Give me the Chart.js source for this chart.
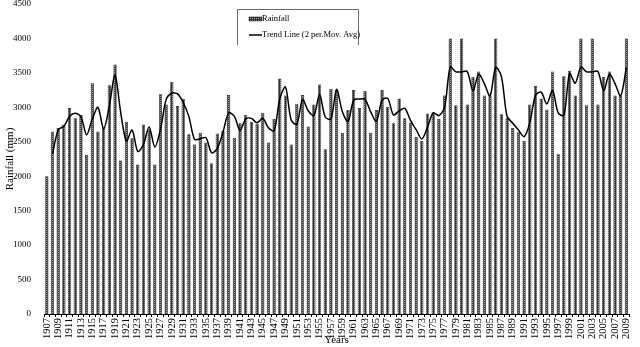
<!DOCTYPE html>
<html>
<head>
<meta charset="utf-8">
<script src="https://cdn.jsdelivr.net/npm/chart.js@4.4.1/dist/chart.umd.min.js"></script>
<style>
  html, body { margin: 0; padding: 0; background: #fff; }
  #wrap { width: 640px; height: 347px; }
</style>
</head>
<body>
<div id="wrap"><canvas id="c" width="640" height="347"></canvas></div>
<script>
// ---- Data ----
const years = [
  "1907","1908","1909","1910","1911","1912","1913","1914","1915","1916",
  "1917","1918","1919","1920","1921","1922","1923","1924","1925","1926",
  "1927","1928","1929","1930","1931","1932","1933","1934","1935","1936",
  "1937","1938","1939","1940","1941","1942","1943","1944","1945","1946",
  "1947","1948","1949","1950","1951","1952","1953","1954","1955","1956",
  "1957","1958","1959","1960","1961","1962","1963","1964","1965","1966",
  "1967","1968","1969","1970","1971","1972","1973","1974","1975","1976",
  "1977","1978","1979","1980","1981","1982","1983","1984","1985","1986",
  "1987","1988","1989","1990","1991","1992","1993","1994","1995","1996",
  "1997","1998","1999","2000","2001","2002","2003","2004","2005","2006",
  "2007","2008","2009"
];
const rainfall = [
  2000,2650,2700,2750,2990,2840,2890,2310,3350,2650,
  2720,3320,3620,2230,2790,2550,2170,2750,2680,2170,
  3190,3040,3370,3020,3120,2610,2460,2630,2490,2190,
  2620,2660,3180,2560,2770,2890,2790,2760,2920,2490,
  2830,3420,3170,2460,3050,3180,2720,3040,3330,2390,
  3270,3250,2630,2960,3250,2990,3240,2630,2960,3250,
  3010,2770,3130,2840,2780,2570,2510,2910,2930,2830,
  3170,4000,3030,4000,3040,3440,3520,3170,3160,4000,
  2900,2840,2700,2640,2510,3040,3310,3130,2970,3520,
  2320,3450,3530,3170,4000,3030,4000,3040,3440,3520,
  3170,3160,4000
];
const yTicks = [0,500,1000,1500,2000,2500,3000,3500,4000,4500];
const seriesNames = ["Rainfall", "Trend Line (2 per.Mov. Avg)"];
const axisTitles = { x: "Years", y: "Rainfall (mm)" };

// 2-period moving average of the rainfall series (what the trend line shows)
const trend = rainfall.map((v, i) => i === 0 ? null : (rainfall[i - 1] + v) / 2);

// ---- Styling ----
const FONT = "'Liberation Serif', 'Times New Roman', serif";

function makePattern() {
  const p = document.createElement('canvas');
  p.width = 2; p.height = 2;
  const g = p.getContext('2d');
  g.fillStyle = '#363636'; g.fillRect(0, 0, 2, 2);
  g.fillStyle = '#969696'; g.fillRect(0, 0, 1, 1);
  return document.getElementById('c').getContext('2d').createPattern(p, 'repeat');
}
const barFill = makePattern();

const legendPlugin = {
  id: 'boxLegend',
  afterDraw(chart) {
    const ctx = chart.ctx;
    ctx.save();
    ctx.strokeStyle = '#6a6a6a';
    ctx.lineWidth = 1;
    ctx.beginPath();
    ctx.moveTo(237.5, 45); ctx.lineTo(237.5, 9.5); ctx.lineTo(358.5, 9.5); ctx.lineTo(358.5, 45);
    ctx.stroke();
    // Rainfall swatch
    ctx.fillStyle = barFill;
    ctx.fillRect(249, 17, 13, 4);
    ctx.strokeStyle = '#333'; ctx.lineWidth = 0.6;
    ctx.strokeRect(249, 17, 13, 4);
    // trend swatch
    ctx.strokeStyle = '#000'; ctx.lineWidth = 1.5;
    ctx.beginPath(); ctx.moveTo(249, 35); ctx.lineTo(262, 35); ctx.stroke();
    ctx.fillStyle = '#000';
    ctx.font = "8.5px " + FONT;
    ctx.textBaseline = 'middle';
    ctx.textAlign = 'left';
    ctx.fillText(seriesNames[0], 262, 19);
    ctx.fillText(seriesNames[1], 262, 35);
    ctx.restore();
  }
};

new Chart(document.getElementById('c'), {
  data: {
    labels: years,
    datasets: [
      {
        type: 'line',
        label: seriesNames[1],
        data: trend,
        borderColor: '#000',
        borderWidth: 1.5,
        pointRadius: 0,
        tension: 0.3,
        fill: false,
        order: 0
      },
      {
        type: 'bar',
        label: seriesNames[0],
        data: rainfall,
        backgroundColor: barFill,
        borderColor: '#222',
        borderWidth: 0.7,
        categoryPercentage: 1.0,
        barPercentage: 0.58,
        order: 1
      }
    ]
  },
  options: {
    responsive: false,
    devicePixelRatio: 1,
    animation: false,
    layout: { padding: { top: 4, right: 3, left: 0, bottom: 0 } },
    plugins: { legend: { display: false }, tooltip: { enabled: false } },
    scales: {
      x: {
        offset: true,
        grid: { display: true, drawOnChartArea: false, tickLength: 3, color: '#000', offset: true },
        border: { display: true, color: '#000', width: 1 },
        ticks: {
          autoSkip: false, maxRotation: 90, minRotation: 90, padding: 1,
          color: '#000', font: { family: FONT, size: 10.5 },
          callback: (v, i) => (i % 2 === 0 ? years[i] : '')
        },
        title: { display: true, text: axisTitles.x, color: '#000', font: { family: FONT, size: 11 }, padding: { top: 0, bottom: 0 } },
        afterFit: s => { s.height = 33; }
      },
      y: {
        min: 0, max: 4500,
        afterBuildTicks: s => { s.ticks = yTicks.map(v => ({ value: v })); },
        grid: { display: false },
        border: { display: false },
        ticks: { color: '#000', padding: 5, font: { family: FONT, size: 9 }, callback: v => String(v) },
        title: { display: true, text: axisTitles.y, color: '#000', font: { family: FONT, size: 11 }, padding: { top: 4, bottom: 0 } },
        afterFit: s => { s.width = 44; s.paddingTop = 0; s.paddingBottom = 0; }
      }
    }
  },
  plugins: [legendPlugin]
});
</script>
</body>
</html>
